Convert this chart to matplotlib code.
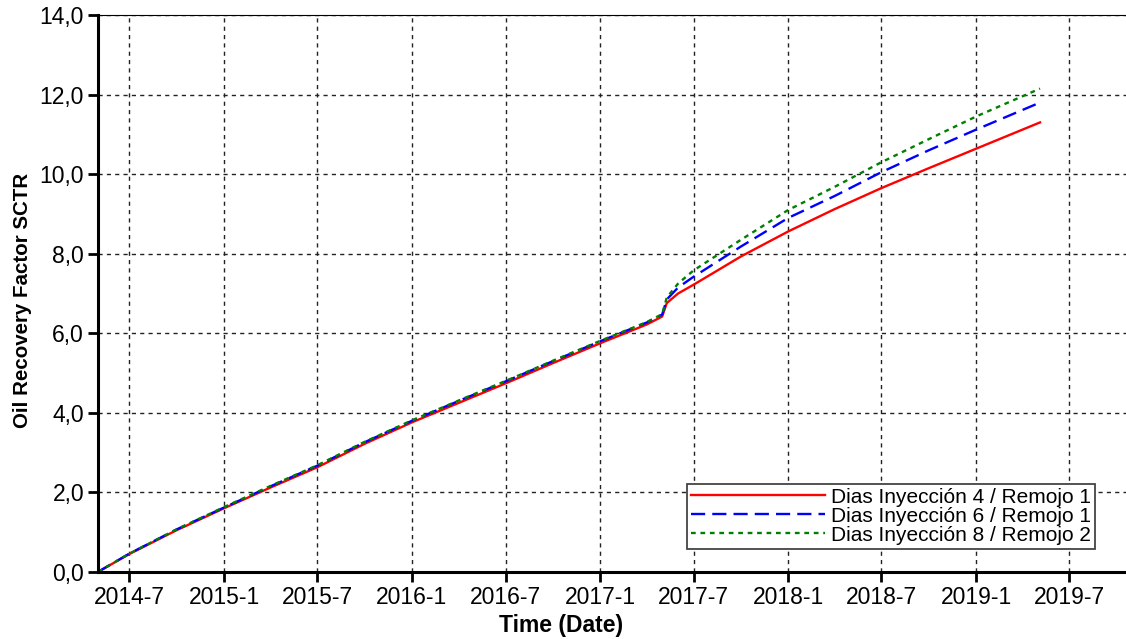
import matplotlib
matplotlib.use("Agg")
import matplotlib.pyplot as plt
import matplotlib.dates as mdates
from matplotlib.ticker import FuncFormatter, MultipleLocator
import numpy as np
from datetime import datetime

plt.rcParams['font.family'] = ['Liberation Sans', 'DejaVu Sans']

# shared history (all three cases overlap until the kink)
base_dates = ["2014-05-01", "2014-07-01", "2014-10-01", "2015-01-01", "2015-04-01",
              "2015-07-01", "2015-10-01", "2016-01-01", "2016-04-01", "2016-07-01",
              "2016-10-01", "2017-01-01", "2017-04-01", "2017-05-01"]
base_red = [0.0, 0.45, 1.05, 1.60, 2.12, 2.63, 3.22, 3.76, 4.25, 4.74, 5.25, 5.75, 6.22, 6.42]
base_blue = [0.0, 0.46, 1.07, 1.62, 2.15, 2.67, 3.26, 3.80, 4.30, 4.79, 5.30, 5.80, 6.27, 6.47]
base_green = [0.0, 0.46, 1.07, 1.63, 2.16, 2.68, 3.27, 3.81, 4.31, 4.80, 5.31, 5.81, 6.28, 6.48]

# forecast after kink
fc_dates = ["2017-05-10", "2017-06-01", "2017-07-01", "2017-10-01", "2018-01-01",
            "2018-04-01", "2018-07-01", "2018-10-01", "2019-01-01", "2019-05-05"]
fc_red = [6.76, 7.00, 7.22, 7.93, 8.56, 9.12, 9.65, 10.15, 10.64, 11.30]
fc_blue = [6.85, 7.15, 7.42, 8.18, 8.90, 9.45, 10.05, 10.60, 11.12, 11.80]
fc_green = [6.90, 7.25, 7.58, 8.35, 9.10, 9.68, 10.30, 10.88, 11.45, 12.15]

labels = ["Dias Inyección 4 / Remojo 1",
          "Dias Inyección 6 / Remojo 1",
          "Dias Inyección 8 / Remojo 2"]

dates = [datetime.strptime(d, "%Y-%m-%d") for d in base_dates + fc_dates]
red = base_red + fc_red
blue = base_blue + fc_blue
green = base_green + fc_green

fig = plt.figure(figsize=(11.26, 6.39), dpi=100)
ax = fig.add_axes([0.087, 0.105, 0.913, 0.8715])

ax.plot(dates, red, color='#ff0000', lw=1.7, label=labels[0])
ax.plot(dates, blue, color='#0000ff', lw=1.7, linestyle=(0, (6, 3)), label=labels[1])
ax.plot(dates, green, color='#008000', lw=1.7, linestyle=(0, (2, 2)), label=labels[2])

ax.set_xlim(datetime(2014, 5, 1), datetime(2019, 10, 19))
ax.set_ylim(0, 14)

ax.xaxis.set_major_locator(mdates.MonthLocator(bymonth=[1, 7]))
ax.xaxis.set_major_formatter(FuncFormatter(
    lambda v, p: "%d-%d" % (mdates.num2date(v).year, mdates.num2date(v).month)))
ax.yaxis.set_major_locator(MultipleLocator(2))
ax.yaxis.set_major_formatter(FuncFormatter(lambda v, p: ("%.1f" % v).replace(".", ",")))

ax.grid(True, color='#222222', linestyle=(0, (3, 3)), lw=1.0)
ax.tick_params(axis='both', labelsize=16.5, length=7, width=2, direction='out', pad=3)

for s in ['left', 'bottom']:
    ax.spines[s].set_linewidth(2.2)
ax.spines['right'].set_visible(False)
ax.spines['top'].set_linewidth(0.8)

ax.set_ylabel("Oil Recovery Factor SCTR", fontsize=14.8, fontweight='bold')
ax.yaxis.set_label_coords(-0.0642, 0.488)
ax.set_xlabel("Time (Date)", fontsize=16.5, fontweight='bold')
ax.xaxis.set_label_coords(0.4504, -0.076)

leg = ax.legend(loc='lower right', bbox_to_anchor=(0.9725, 0.141),
                bbox_transform=fig.transFigure, fontsize=15, handlelength=6.4,
                fancybox=False, framealpha=1, edgecolor='#444444',
                borderpad=0.2, labelspacing=0.0, handletextpad=0.3, borderaxespad=0)
leg.get_frame().set_linewidth(1.3)

fig.savefig("out.png", dpi=100)
